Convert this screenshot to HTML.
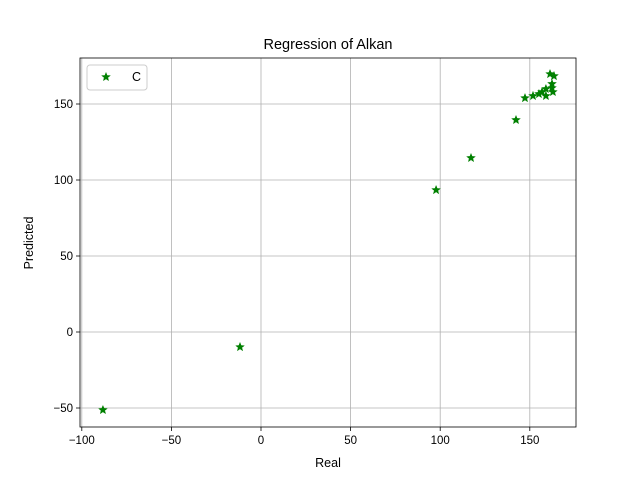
<!DOCTYPE html>
<html><head><meta charset="utf-8"><style>body{margin:0;background:#fff}svg{display:block;font-family:"Liberation Sans","DejaVu Sans",sans-serif}</style></head>
<body>
<svg id="c" width="640" height="480"></svg>
<script>
const realVals=[-88.2,-11.7,97.7,117.2,142.3,147.3,151.8,155.1,156.8,159,159,162.4,162.9,161.3,163.5,162.4];
const predVals=[-51.3,-9.9,93.4,114.5,139.5,153.9,155.3,156.6,157.9,159.9,155.3,160.5,157.9,169.7,168.4,163.2];
const xTicks=[-100,-50,0,50,100,150];
const yTicks=[-50,0,50,100,150];
const L=80,R=576,T=58,B=427;
const sx=v=>261+(v)*1.792, sy=v=>332-v*1.52;
const s=document.getElementById('c');const NS='http://www.w3.org/2000/svg';
const fmt=v=>v<0?'\u2212'+(-v):String(v);
function mk(t,a,p){const e=document.createElementNS(NS,t);for(const k in a)e.setAttribute(k,a[k]);(p||s).appendChild(e);return e;}
xTicks.forEach(v=>{const x=sx(v);
const g=mk('line',{x1:x,x2:x,y1:T,y2:B,stroke:'#b0b0b0','stroke-width':0.8});

mk('line',{x1:x,x2:x,y1:B,y2:B+4,stroke:'#000','stroke-width':0.8});
const t=mk('text',{x:x,y:B+17,'text-anchor':'middle','font-size':'11.5'});t.textContent=fmt(v);
});
yTicks.forEach(v=>{const y=sy(v);
const g=mk('line',{x1:L,x2:R,y1:y,y2:y,stroke:'#b0b0b0','stroke-width':0.8});

mk('line',{x1:L-4,x2:L,y1:y,y2:y,stroke:'#000','stroke-width':0.8});
const t=mk('text',{x:L-7,y:y+4,'text-anchor':'end','font-size':'11.5'});t.textContent=fmt(v);
});
function star(x,y,r){let p=[];for(let i=0;i<10;i++){const a=-Math.PI/2+i*Math.PI/5,rr=i%2?r*0.42:r;p.push((x+rr*Math.cos(a)).toFixed(1)+','+(y+rr*Math.sin(a)).toFixed(1));}return p.join(' ');}
realVals.forEach((v,i)=>{const p=mk('polygon',{points:star(sx(v),sy(predVals[i]),4.5),fill:'#008000',stroke:'#008000','stroke-width':0.5});
});
const f=mk('rect',{x:L,y:T,width:R-L,height:B-T,fill:'none',stroke:'#000','stroke-width':0.8});

const ti=mk('text',{x:328,y:49,'text-anchor':'middle','font-size':'14.5'});ti.textContent='Regression of Alkan';

const xl=mk('text',{x:328,y:467,'text-anchor':'middle','font-size':'12.5'});xl.textContent='Real';

const yl=mk('text',{x:33,y:243,'text-anchor':'middle','font-size':'12.5',transform:'rotate(-90 33 243)'});yl.textContent='Predicted';

const lg=mk('g',{});
mk('rect',{x:87,y:65,width:60,height:25,rx:3,fill:'#fff',stroke:'#ccc'},lg);
mk('polygon',{points:star(106,77,4.5),fill:'#008000',stroke:'#008000','stroke-width':0.5},lg);
const lt=mk('text',{x:132,y:81,'font-size':'12.5'},lg);lt.textContent='C';

</script>
</body></html>
